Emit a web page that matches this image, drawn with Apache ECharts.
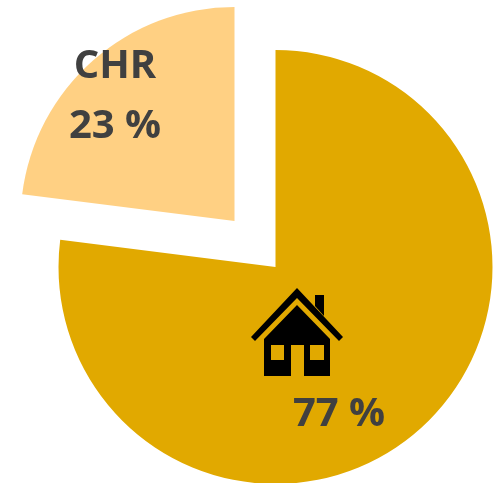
<!DOCTYPE html>
<html><head><meta charset="utf-8">
<style>html,body{margin:0;padding:0;background:#fff}#c{width:493px;height:483px}</style>
<script src="https://cdn.jsdelivr.net/npm/echarts@6/dist/echarts.min.js"></script>
</head><body><div id="c"></div>
<script>
const categories = ['', 'CHR'];
const values = [77, 23];
const colors = ['#E1A900', '#FFD083'];
const sliceCenters = [[275.5, 267], [234.5, 221]];
const sliceRadii = [217, 214];
const labelPositions = [[339, 415], [115, 97]];
const houseBlack = [
  [[297,288],[343,337],[339,341],[297,298],[255,341],[251,337]],
  [[315,295],[324,295],[324,316],[315,306]],
  [[297,305],[330,339],[330,376],[304,376],[304,345],[291,345],[291,376],[264,376],[264,339]]
];
const houseWindows = [
  [[271,345],[284,345],[284,360],[271,360]],
  [[310,345],[324,345],[324,360],[310,360]]
];
const chart = echarts.init(document.getElementById('c'), null, {renderer: 'canvas'});
chart.setOption({
  animation: false,
  series: categories.map((_, s) => ({
    type: 'pie',
    center: sliceCenters[s],
    radius: [0, sliceRadii[s]],
    startAngle: 90,
    clockwise: true,
    silent: true,
    data: categories.map((name, i) => ({
      name, value: values[i],
      itemStyle: {color: i === s ? colors[i] : 'transparent'},
      label: {show: i === s}
    })),
    label: {
      position: 'inside',
      fontFamily: '"Open Sans"',
      fontWeight: 700,
      fontSize: 40,
      lineHeight: 60,
      color: '#404040',
      align: 'center',
      verticalAlign: 'middle',
      formatter: p => (p.name ? p.name + '\n' : '') + p.value + ' %'
    },
    labelLine: {show: false},
    labelLayout: p => ({
      x: labelPositions[p.dataIndex][0],
      y: labelPositions[p.dataIndex][1],
      align: 'center',
      verticalAlign: 'middle'
    })
  })),
  graphic: [
    ...houseBlack.map(points => ({type: 'polygon', shape: {points}, style: {fill: '#000'}, z: 10})),
    ...houseWindows.map(points => ({type: 'polygon', shape: {points}, style: {fill: colors[0]}, z: 11}))
  ]
});
</script></body></html>
